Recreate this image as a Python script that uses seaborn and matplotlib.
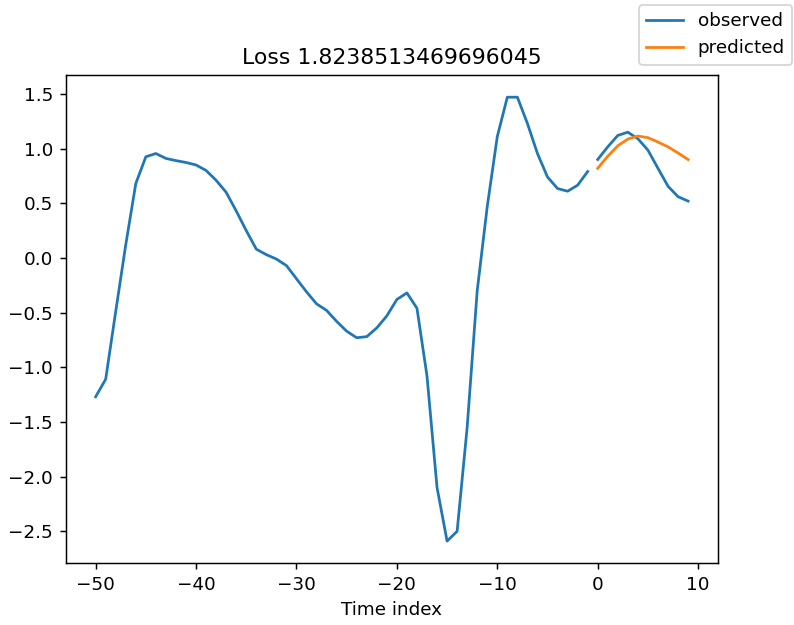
import numpy as np
import pandas as pd
import matplotlib
matplotlib.use('Agg')
import matplotlib.pyplot as plt
import seaborn as sns

hist_t = list(range(-50, 0))
hist_obs = [-1.27, -1.11, -0.49, 0.12, 0.68, 0.925, 0.955, 0.91, 0.89, 0.873,
            0.85, 0.80, 0.71, 0.60, 0.43, 0.25, 0.08, 0.03, -0.01, -0.07,
            -0.19, -0.31, -0.42, -0.48, -0.58, -0.67, -0.73, -0.72, -0.64, -0.53,
            -0.38, -0.32, -0.46, -1.08, -2.10, -2.59, -2.50, -1.55, -0.30, 0.47,
            1.11, 1.47, 1.47, 1.23, 0.955, 0.74, 0.635, 0.61, 0.665, 0.79]

fut_t = list(range(0, 10))
fut_obs = [0.90, 1.016, 1.12, 1.15, 1.09, 0.986, 0.82, 0.656, 0.56, 0.52]
fut_pred = [0.82, 0.93, 1.026, 1.087, 1.115, 1.10, 1.06, 1.016, 0.96, 0.90]

loss = 1.8238513469696045

hist = pd.DataFrame({'t': hist_t, 'value': hist_obs})
fut = pd.DataFrame({'t': fut_t, 'observed': fut_obs, 'predicted': fut_pred})

fig = plt.figure(figsize=(794 / 132, 625 / 132), dpi=132)
ax = fig.add_axes([66 / 794, 1 - 563.3 / 625, (717.7 - 66) / 794, (563.3 - 75) / 625])

sns.lineplot(data=hist, x='t', y='value', color='C0', label='observed', ax=ax)
sns.lineplot(data=fut, x='t', y='observed', color='C0', ax=ax)
sns.lineplot(data=fut, x='t', y='predicted', color='C1', label='predicted', ax=ax)

ax.legend_.remove()
ax.set_title('Loss ' + str(loss))
ax.set_xlabel('Time index')
ax.set_ylabel('')
ax.set_xticks([-50, -40, -30, -20, -10, 0, 10])
ax.set_yticks([-2.5, -2.0, -1.5, -1.0, -0.5, 0.0, 0.5, 1.0, 1.5])

fig.legend(loc='upper right', bbox_to_anchor=(1.0, 1.0 - 3 / 625), borderaxespad=0.1)

fig.savefig('out.png', dpi=132)
